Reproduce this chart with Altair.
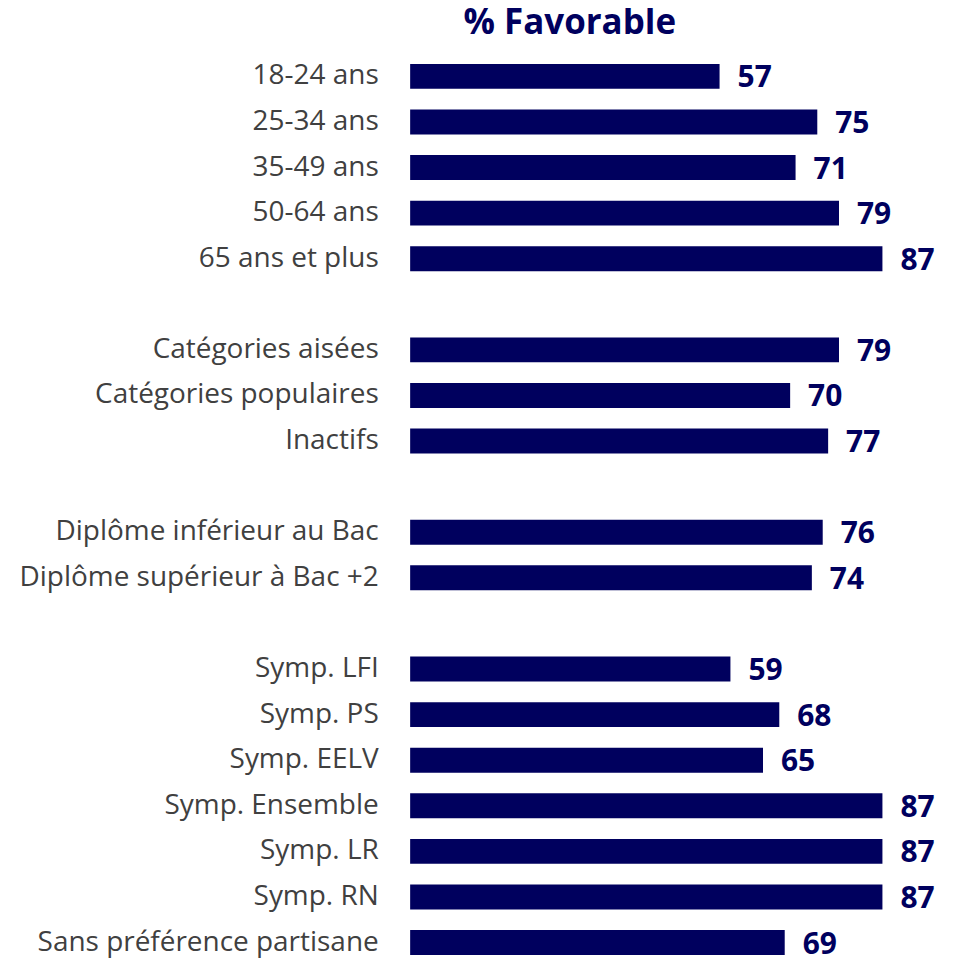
import altair as alt
import pandas as pd

categories = [
    "18-24 ans", "25-34 ans", "35-49 ans", "50-64 ans", "65 ans et plus",
    "Catégories aisées", "Catégories populaires", "Inactifs",
    "Diplôme inférieur au Bac", "Diplôme supérieur à Bac +2",
    "Symp. LFI", "Symp. PS", "Symp. EELV", "Symp. Ensemble", "Symp. LR",
    "Symp. RN", "Sans préférence partisane",
]
values = [57, 75, 71, 79, 87, 79, 70, 77, 76, 74, 59, 68, 65, 87, 87, 87, 69]

# row order including empty spacer rows between groups
row_order = [
    "18-24 ans", "25-34 ans", "35-49 ans", "50-64 ans", "65 ans et plus", " ",
    "Catégories aisées", "Catégories populaires", "Inactifs", "  ",
    "Diplôme inférieur au Bac", "Diplôme supérieur à Bac +2", "   ",
    "Symp. LFI", "Symp. PS", "Symp. EELV", "Symp. Ensemble", "Symp. LR",
    "Symp. RN", "Sans préférence partisane",
]

NAVY = "#00005E"
df = pd.DataFrame({"cat": categories, "val": values})

y_enc = alt.Y(
    "cat:N",
    sort=row_order,
    scale=alt.Scale(domain=row_order, paddingInner=0.453, paddingOuter=0),
    axis=alt.Axis(
        title=None, ticks=False, domain=False, labelPadding=32, labelLimit=500,
        labelFont="Open Sans", labelFontSize=28, labelColor="#404040",
    ),
)
x_enc = alt.X("val:Q", scale=alt.Scale(domain=[0, 100]), axis=None)

bars = alt.Chart(df).mark_bar(color=NAVY).encode(y=y_enc, x=x_enc)
labels = alt.Chart(df).mark_text(
    align="left", baseline="alphabetic", dx=18, dy=11,
    font="Open Sans", fontWeight="bold", fontSize=30, color=NAVY,
).encode(y=y_enc, x=x_enc, text="val:Q")

chart = (bars + labels).properties(
    width=544, height=893,
    autosize=alt.AutoSizeParams(type="none"),
    padding={"left": 403, "top": 55, "right": 0, "bottom": 6},
    title=alt.TitleParams(
        "% Favorable", anchor="start", frame="group", align="center", dx=160,
        font="Open Sans", fontWeight="bold", fontSize=35, color=NAVY,
        baseline="alphabetic", offset=0, dy=7,
    ),
).configure_view(stroke=None)

chart.save("out.html", embed_options={"renderer": "svg", "actions": False})
